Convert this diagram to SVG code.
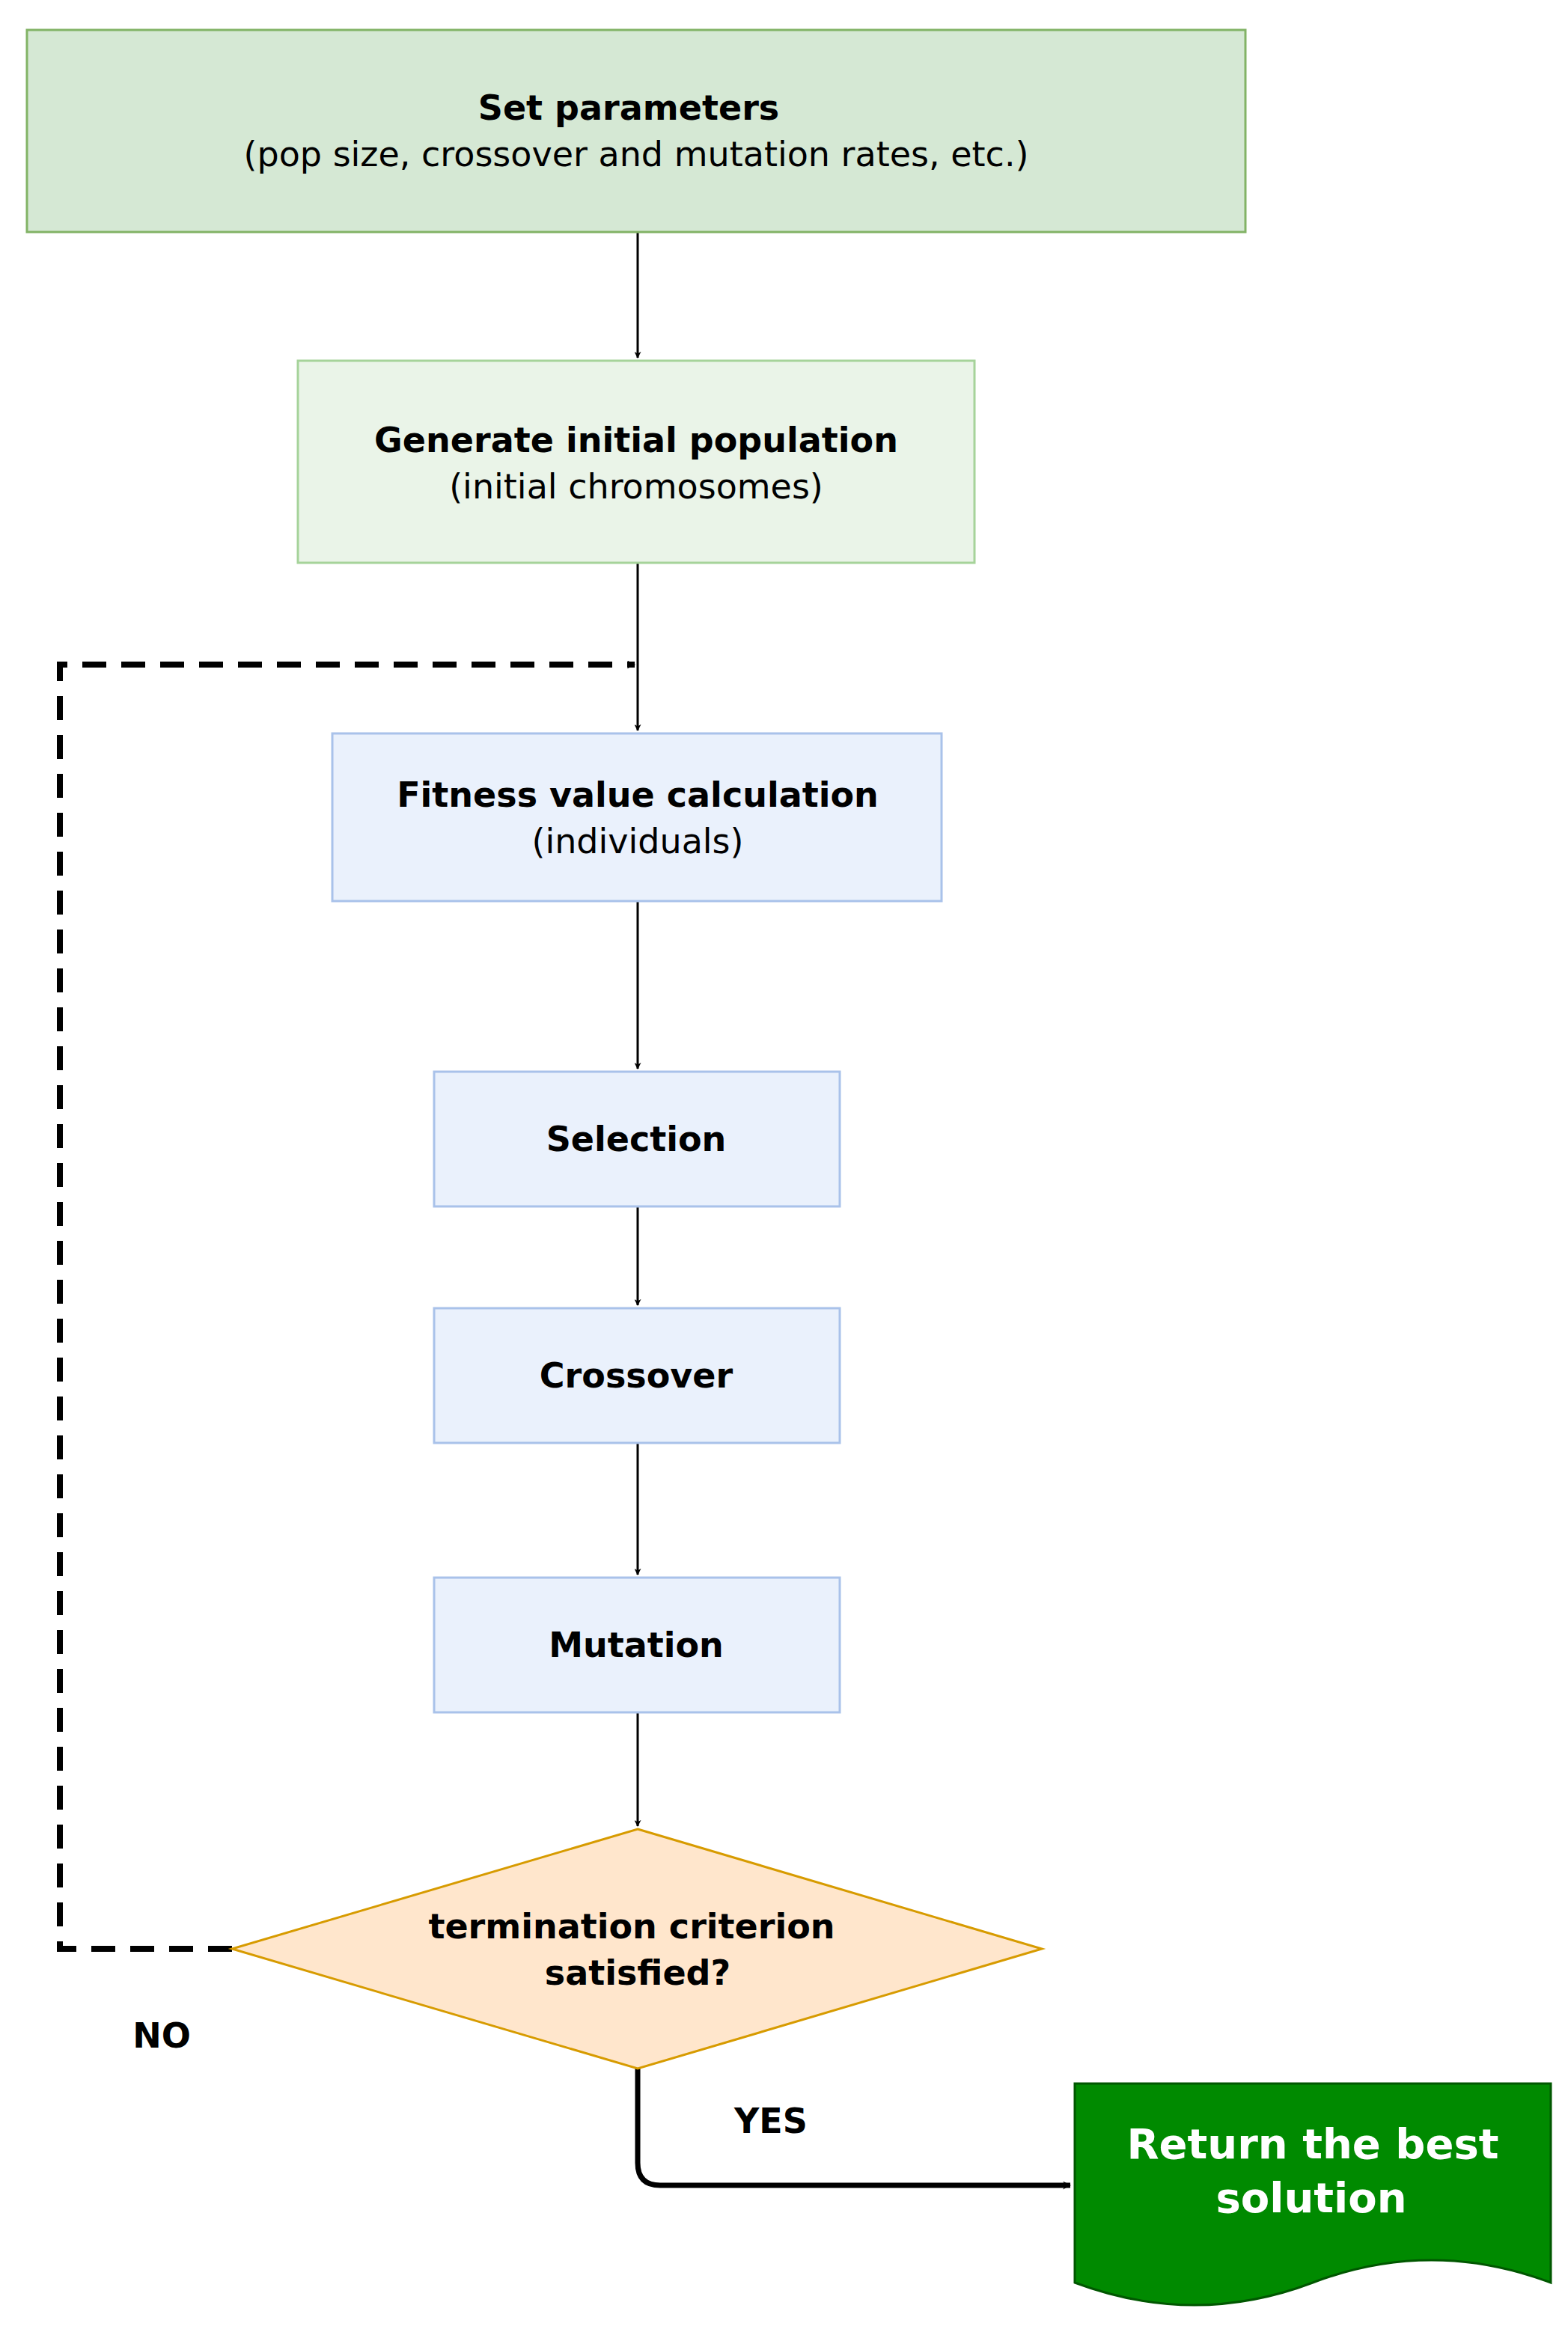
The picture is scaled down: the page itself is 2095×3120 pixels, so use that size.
<svg xmlns="http://www.w3.org/2000/svg" width="2095" height="3120" viewBox="0 0 2095 3120">
<defs>
<style>
text{font-family:"DejaVu Sans",Verdana,sans-serif;text-anchor:middle;fill:#000}
.b{font-weight:bold;font-size:46px}
.n{font-size:46px}
.blue{fill:#eaf1fc;stroke:#a9c2ea;stroke-width:3}
.ln{stroke:#000;stroke-width:3;fill:none}
</style>
<marker id="a" viewBox="0 0 10 10" refX="9" refY="5" markerWidth="9" markerHeight="9" markerUnits="userSpaceOnUse" orient="auto"><path d="M0,0 L10,5 L0,10 L3,5z" fill="#000"/></marker>
<marker id="big" viewBox="0 0 10 10" refX="9" refY="5" markerWidth="11" markerHeight="11" markerUnits="userSpaceOnUse" orient="auto"><path d="M0,0 L10,5 L0,10 L3,5z" fill="#000"/></marker>
</defs>
<rect width="2095" height="3120" fill="#fff"/>
<g id="connectors">
<path class="ln" d="M852,310 V478" marker-end="url(#a)" style="stroke-width:3"/>
<path class="ln" d="M852,752 V976" marker-end="url(#a)"/>
<path class="ln" d="M852,1204 V1428" marker-end="url(#a)"/>
<path class="ln" d="M852,1612 V1744" marker-end="url(#a)"/>
<path class="ln" d="M852,1928 V2104" marker-end="url(#a)"/>
<path class="ln" d="M852,2288 V2440" marker-end="url(#a)"/>
<path d="M310,2604 H80 V888 H848" fill="none" stroke="#000" stroke-width="8" stroke-dasharray="32,20" marker-end="url(#big)"/>
<path d="M852,2764 V2890 Q852,2920 882,2920 H1430" fill="none" stroke="#000" stroke-width="7" marker-end="url(#big)"/>
<text class="b" x="216" y="2736">NO</text>
<text class="b" x="1030" y="2850">YES</text>
</g>
<g id="n1"><rect x="36" y="40" width="1628" height="270" fill="#d5e8d4" stroke="#82b366" stroke-width="3"/>
<text class="b" x="840" y="160">Set parameters</text><text class="n" x="850" y="222">(pop size, crossover and mutation rates, etc.)</text></g>
<g id="n2"><rect x="398" y="482" width="904" height="270" fill="#eaf4e8" stroke="#a6d39a" stroke-width="3"/>
<text class="b" x="850" y="604">Generate initial population</text><text class="n" x="850" y="666">(initial chromosomes)</text></g>
<g id="n3"><rect class="blue" x="444" y="980" width="814" height="224"/>
<text class="b" x="852" y="1078">Fitness value calculation</text><text class="n" x="852" y="1140">(individuals)</text></g>
<g id="n4"><rect class="blue" x="580" y="1432" width="542" height="180"/><text class="b" x="850" y="1538">Selection</text></g>
<g id="n5"><rect class="blue" x="580" y="1748" width="542" height="180"/><text class="b" x="850" y="1854">Crossover</text></g>
<g id="n6"><rect class="blue" x="580" y="2108" width="542" height="180"/><text class="b" x="850" y="2214">Mutation</text></g>
<g id="n7"><path d="M852,2444 L1392,2604 L852,2764 L310,2604Z" fill="#ffe6cc" stroke="#d79b00" stroke-width="3"/>
<text class="b" x="844" y="2590">termination criterion</text><text class="b" x="852" y="2652">satisfied?</text></g>
<g id="n8"><path d="M1436,2784 H2072 V3050 Q1912,2990 1754,3050 Q1596,3110 1436,3050Z" fill="#008a00" stroke="#005700" stroke-width="3"/>
<text x="1754" y="2884" style="font-weight:bold;font-size:56px;fill:#fff">Return the best</text>
<text x="1752" y="2956" style="font-weight:bold;font-size:56px;fill:#fff">solution</text></g>
</svg>
